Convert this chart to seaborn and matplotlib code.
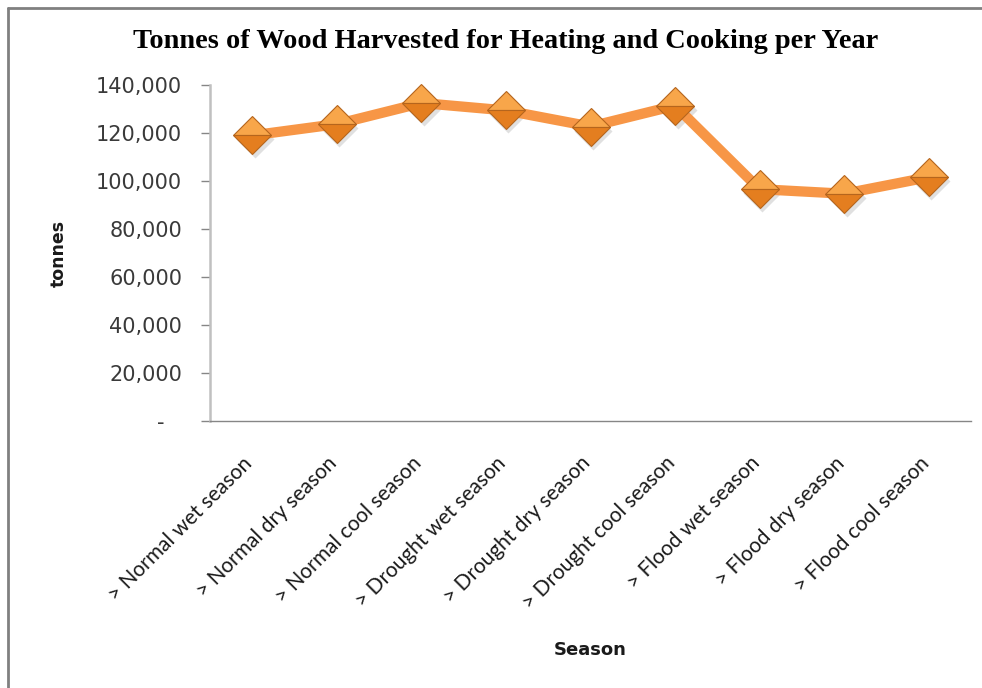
import matplotlib
matplotlib.use("Agg")
import matplotlib.pyplot as plt
import matplotlib.ticker as mticker
from matplotlib.lines import Line2D
import matplotlib.transforms as mtransforms
import seaborn as sns
import pandas as pd

# Harvest by scenario and season (tonnes per year)
seasons = [
    "> Normal wet season", "> Normal dry season", "> Normal cool season",
    "> Drought wet season", "> Drought dry season", "> Drought cool season",
    "> Flood wet season", "> Flood dry season", "> Flood cool season",
]
tonnes = [119000, 123700, 132500, 129400, 122700, 131400, 96600, 94700, 101600]
y_ticks = [0, 20000, 40000, 60000, 80000, 100000, 120000, 140000]

df = pd.DataFrame({"Season": seasons, "tonnes": tonnes})

sns.set_theme(style="white")
plt.rcParams["font.family"] = ["DejaVu Sans"]

W, H, DPI = 982, 688, 100
fig = plt.figure(figsize=(W / DPI, H / DPI), dpi=DPI)
fig.patch.set_facecolor("white")

# plot area in pixels: x 210..971, y 85..421 (from top)
PX0, PX1, PY0, PY1 = 210, 971, 85, 421
ax = fig.add_axes([PX0 / W, 1 - PY1 / H, (PX1 - PX0) / W, (PY1 - PY0) / H])
ax.set_facecolor("white")

LINE = "#f79646"
MS = 19

# soft drop shadow under the markers
shadow = mtransforms.offset_copy(ax.transData, fig=fig, x=2.5, y=-4, units="dots")
ax.plot(range(len(tonnes)), tonnes, linestyle="none", marker="D", markersize=MS,
        markerfacecolor="#9a9a9a", markeredgecolor="none", alpha=0.3,
        transform=shadow, zorder=2, clip_on=False)

sns.lineplot(data=df, x="Season", y="tonnes", sort=False, ax=ax,
             color=LINE, linewidth=7.4, marker="D", markersize=MS,
             markerfacecolor="#f8a64a", markerfacecoloralt="#e47e1f",
             fillstyle="top", markeredgecolor="#b5651d", markeredgewidth=0.8,
             zorder=3, clip_on=False)

ax.set_xlim(-0.5, len(seasons) - 0.5)
ax.set_ylim(0, 140000)
ax.set_yticks(y_ticks)


def fmt(v, _pos):
    return "-  \u2009" if v == 0 else f"{int(v):,}"


ax.yaxis.set_major_formatter(mticker.FuncFormatter(fmt))

ax.tick_params(axis="y", which="major", direction="out", length=6.5, width=1,
               color="#868686", pad=13.5, labelsize=15, labelcolor="#3a3a3a",
               left=True)
ax.tick_params(axis="x", which="major", length=0, pad=23, labelsize=15,
               labelcolor="#1a1a1a")
shift = mtransforms.ScaledTranslation(-10 / DPI, 0, fig.dpi_scale_trans)
for lab in ax.get_xticklabels():
    lab.set_rotation(45)
    lab.set_ha("right")
    lab.set_rotation_mode("anchor")
    lab.set_fontfamily("Lato")
    lab.set_transform(lab.get_transform() + shift)

for side in ("top", "right"):
    ax.spines[side].set_visible(False)
ax.spines["left"].set_color("#c0c0c0")
ax.spines["left"].set_linewidth(1.8)
ax.spines["bottom"].set_color("#868686")
ax.spines["bottom"].set_linewidth(1.0)
ax.grid(False)

ax.set_xlabel("Season", fontsize=13, fontweight="bold", color="#1a1a1a")
ax.set_ylabel("tonnes", fontsize=12.5, fontweight="bold", color="#1a1a1a")
ax.yaxis.set_label_coords((68 - PX0) / (PX1 - PX0), 0.5)
ax.xaxis.set_label_coords(0.5, -(641 - PY1) / (PY1 - PY0))

fig.text(506 / W, 1 - 42 / H,
         "Tonnes of Wood Harvested for Heating and Cooking per Year",
         ha="center", va="center", fontsize=20.4, fontweight="bold",
         family="Liberation Serif", color="#000000")

# chart frame (top and left edges)
fig.add_artist(Line2D([7.5 / W, 1.0], [1 - 7.5 / H, 1 - 7.5 / H],
                      transform=fig.transFigure, color="#808080", linewidth=2.0))
fig.add_artist(Line2D([7.5 / W, 7.5 / W], [0.0, 1 - 7.5 / H],
                      transform=fig.transFigure, color="#808080", linewidth=2.0))

fig.savefig("out.png", dpi=DPI)
